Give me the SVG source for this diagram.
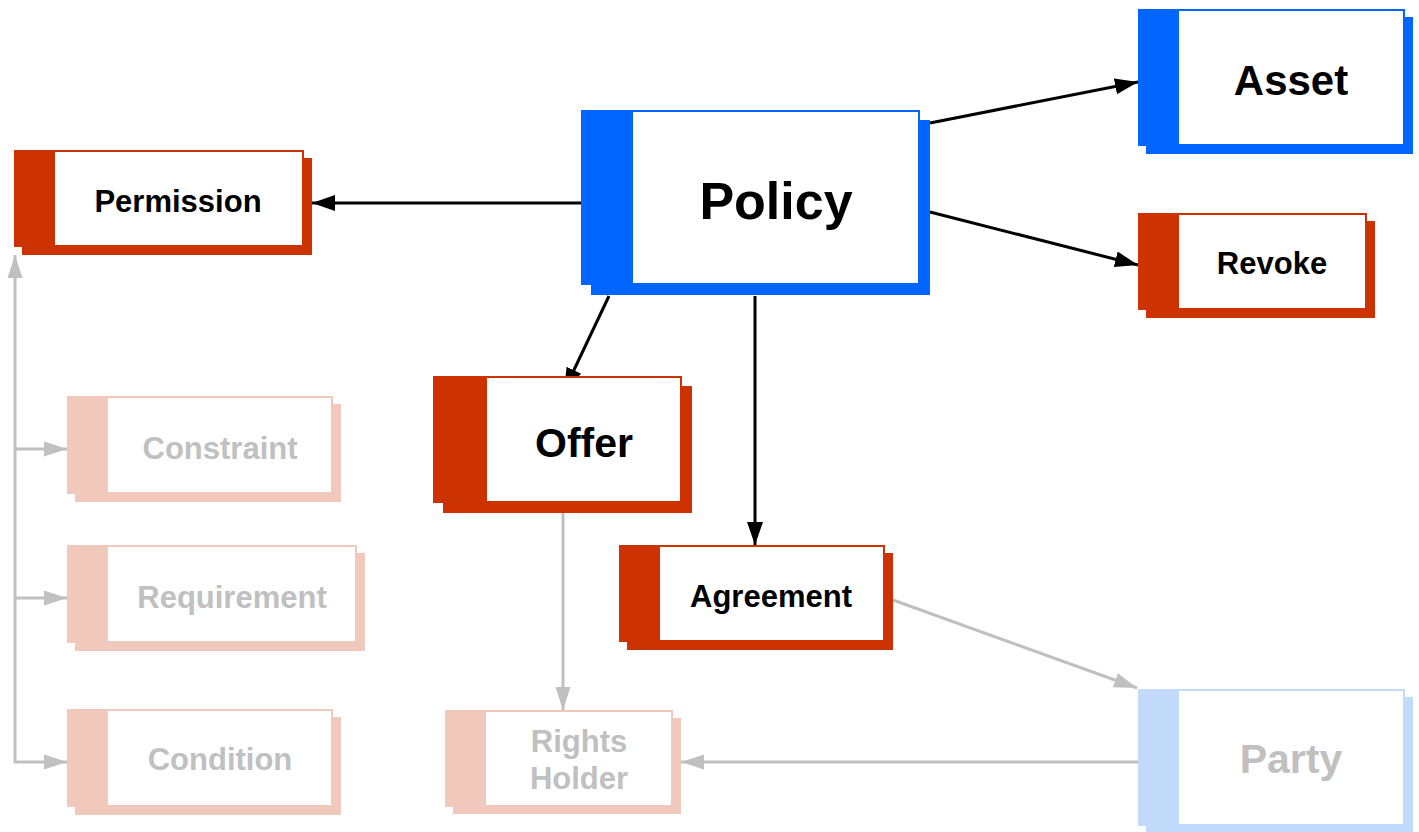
<svg xmlns="http://www.w3.org/2000/svg" width="1419" height="832" viewBox="0 0 1419 832">
<style>
.t{font-family:"Liberation Sans",Arial,sans-serif;font-weight:bold;text-anchor:middle}
.dk{fill:#000}
.lt{fill:#c0c0c0}
.white{fill:#fff}
.blue{fill:#0066ff}
.red{fill:#cc3300}
.lred{fill:#f1c9bc}
.lblue{fill:#c2dafc}
.ek{stroke:#000;stroke-width:3;fill:none}
.eg{stroke:#c0c0c0;stroke-width:3;fill:none}
</style>
<defs>
<marker id="ak" markerUnits="userSpaceOnUse" markerWidth="26" markerHeight="18" refX="23" refY="9" orient="auto" viewBox="0 0 26 18"><path d="M0,1 L23,9 L0,17 Z" fill="#000"/></marker>
<marker id="ag" markerUnits="userSpaceOnUse" markerWidth="26" markerHeight="18" refX="23" refY="9" orient="auto" viewBox="0 0 26 18"><path d="M0,1.5 L23,9 L0,16.5 Z" fill="#c0c0c0"/></marker>
</defs>
<rect width="1419" height="832" fill="#fff"/>
<g id="connectors">
<line class="ek" x1="581" y1="203" x2="312" y2="203" marker-end="url(#ak)"/>
<line class="ek" x1="930" y1="123" x2="1138" y2="82" marker-end="url(#ak)"/>
<line class="ek" x1="930" y1="212" x2="1138" y2="265" marker-end="url(#ak)"/>
<line class="ek" x1="609" y1="296" x2="564" y2="391" marker-end="url(#ak)"/>
<line class="ek" x1="755" y1="296" x2="755" y2="545" marker-end="url(#ak)"/>
<line class="eg" x1="563" y1="513" x2="563" y2="710" marker-end="url(#ag)"/>
<line class="eg" x1="893" y1="600" x2="1137" y2="688" marker-end="url(#ag)"/>
<line class="eg" x1="1138" y1="762" x2="681" y2="762" marker-end="url(#ag)"/>
<line class="eg" x1="15" y1="763" x2="15" y2="255" marker-end="url(#ag)"/>
<line class="eg" x1="15" y1="449" x2="67" y2="449" marker-end="url(#ag)"/>
<line class="eg" x1="15" y1="598" x2="67" y2="598" marker-end="url(#ag)"/>
<line class="eg" x1="14" y1="762" x2="67" y2="762" marker-end="url(#ag)"/>
</g>
<g id="policy">
<rect class="blue" x="591" y="120" width="339" height="175"/>
<rect class="blue" x="581" y="110" width="339" height="175"/>
<rect class="white" x="633" y="112" width="285" height="171"/>
<text class="t dk" x="776" y="219" font-size="52">Policy</text>
</g>
<g id="permission">
<rect class="red" x="22" y="158" width="290" height="97"/>
<rect class="red" x="14" y="150" width="290" height="97"/>
<rect class="white" x="55" y="152" width="247" height="93"/>
<text class="t dk" x="178" y="212" font-size="31">Permission</text>
</g>
<g id="asset">
<rect class="blue" x="1146" y="17" width="267" height="137"/>
<rect class="blue" x="1138" y="9" width="267" height="137"/>
<rect class="white" x="1179" y="11" width="224" height="133"/>
<text class="t dk" x="1291" y="95" font-size="42">Asset</text>
</g>
<g id="revoke">
<rect class="red" x="1146" y="221" width="229" height="97"/>
<rect class="red" x="1138" y="213" width="229" height="97"/>
<rect class="white" x="1179" y="215" width="186" height="93"/>
<text class="t dk" x="1272" y="274" font-size="31">Revoke</text>
</g>
<g id="offer">
<rect class="red" x="443" y="386" width="249" height="127"/>
<rect class="red" x="433" y="376" width="249" height="127"/>
<rect class="white" x="487" y="378" width="193" height="123"/>
<text class="t dk" x="584" y="457" font-size="41">Offer</text>
</g>
<g id="agreement">
<rect class="red" x="627" y="553" width="266" height="97"/>
<rect class="red" x="619" y="545" width="266" height="97"/>
<rect class="white" x="660" y="547" width="223" height="93"/>
<text class="t dk" x="771" y="607" font-size="31">Agreement</text>
</g>
<g id="constraint">
<rect class="lred" x="75" y="404" width="266" height="98"/>
<rect class="lred" x="67" y="396" width="266" height="98"/>
<rect class="white" x="108" y="398" width="223" height="94"/>
<text class="t lt" x="220" y="459" font-size="31">Constraint</text>
</g>
<g id="requirement">
<rect class="lred" x="75" y="553" width="290" height="98"/>
<rect class="lred" x="67" y="545" width="290" height="98"/>
<rect class="white" x="108" y="547" width="247" height="94"/>
<text class="t lt" x="232" y="608" font-size="31">Requirement</text>
</g>
<g id="condition">
<rect class="lred" x="75" y="717" width="266" height="98"/>
<rect class="lred" x="67" y="709" width="266" height="98"/>
<rect class="white" x="108" y="711" width="223" height="94"/>
<text class="t lt" x="220" y="770" font-size="31">Condition</text>
</g>
<g id="rights-holder">
<rect class="lred" x="453" y="718" width="228" height="96"/>
<rect class="lred" x="445" y="710" width="228" height="97"/>
<rect class="white" x="486" y="712" width="185" height="93"/>
<text class="t lt" x="579" y="752" font-size="31">Rights</text>
<text class="t lt" x="579" y="789" font-size="31">Holder</text>
</g>
<g id="party">
<rect class="lblue" x="1146" y="697" width="267" height="137"/>
<rect class="lblue" x="1138" y="689" width="267" height="137"/>
<rect class="white" x="1179" y="691" width="224" height="133"/>
<text class="t lt" x="1291" y="773" font-size="41">Party</text>
</g>
</svg>
